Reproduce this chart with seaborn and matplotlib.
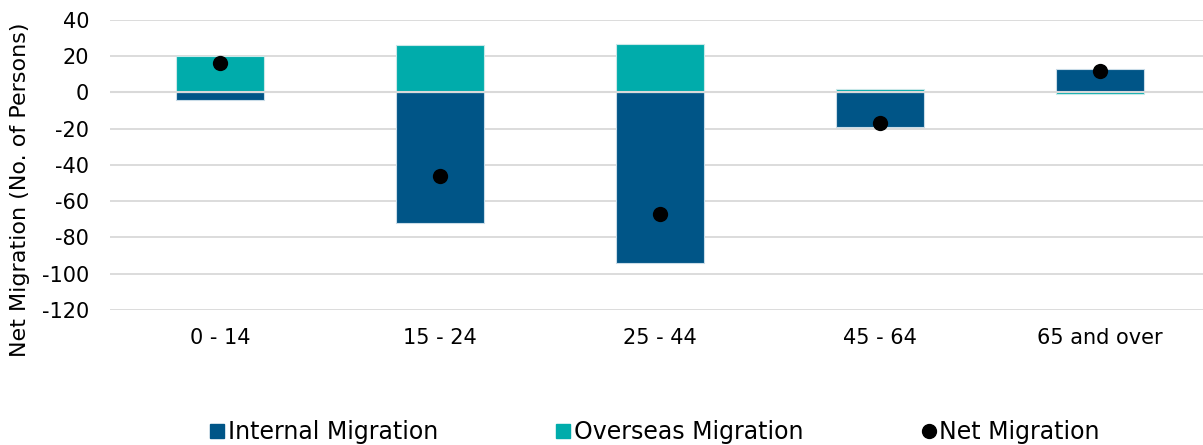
import matplotlib
matplotlib.use("Agg")
import matplotlib.pyplot as plt
import seaborn as sns
import pandas as pd
from matplotlib.lines import Line2D

# Net migration by age group, split by source
age_groups = ["0 - 14", "15 - 24", "25 - 44", "45 - 64", "65 and over"]
internal = [-4, -72, -94, -19, 13]
overseas = [20, 26, 27, 2, -1]
net = [16, -46, -67, -17, 12]

yticks = [-120, -100, -80, -60, -40, -20, 0, 20, 40]

INTERNAL_C = "#005587"
OVERSEAS_C = "#00ACAB"
GRID_C = "#D9D9D9"

sns.set_theme(style="white")
plt.rcParams["font.family"] = ["DejaVu Sans"]
plt.rcParams["text.color"] = "black"

df = pd.DataFrame({"age": age_groups, "internal": internal,
                   "overseas": overseas, "net": net})

fig = plt.figure(figsize=(12.03, 4.45), dpi=100)
ax = fig.add_axes([110 / 1203, (445 - 310) / 445, 1100 / 1203, 290 / 445])

# Each age group has one positive and one negative component, so both bars start at zero
sns.barplot(data=df, x="age", y="internal", color=INTERNAL_C, width=0.4,
            saturation=1, edgecolor="#c9dce8", linewidth=0.8, ax=ax, zorder=2)
sns.barplot(data=df, x="age", y="overseas", color=OVERSEAS_C, width=0.4,
            saturation=1, edgecolor="#c9e8e8", linewidth=0.8, ax=ax, zorder=2)
sns.stripplot(data=df, x="age", y="net", color="black", size=11,
              jitter=False, ax=ax, zorder=4)

ax.set_ylim(-120, 40)
ax.set_xlim(-0.5, 4.5)
ax.set_yticks(yticks)
ax.set_yticklabels([str(v) for v in yticks])
ax.yaxis.grid(True, color=GRID_C, linewidth=1.3, zorder=0)
ax.set_axisbelow(True)
ax.axhline(0, color=GRID_C, linewidth=1.5, zorder=3)
for s in ax.spines.values():
    s.set_visible(False)
ax.tick_params(axis="both", length=0, labelsize=15, colors="black")
ax.tick_params(axis="y", pad=15)
ax.tick_params(axis="x", pad=13)
ax.set_xlabel("")
ax.set_ylabel("")
fig.text(20 / 1203, 1 - 190 / 445, "Net Migration (No. of Persons)",
         rotation=90, ha="center", va="center", fontsize=16, color="black")

handles = [
    Line2D([], [], marker="s", linestyle="none", markersize=10,
           markerfacecolor=INTERNAL_C, markeredgecolor=INTERNAL_C),
    Line2D([], [], marker="s", linestyle="none", markersize=10,
           markerfacecolor=OVERSEAS_C, markeredgecolor=OVERSEAS_C),
    Line2D([], [], marker="o", linestyle="none", markersize=10,
           markerfacecolor="black", markeredgecolor="black"),
]
labels = ["Internal Migration", "Overseas Migration", "Net Migration"]
fig.legend(handles, labels, loc="center", bbox_to_anchor=(655 / 1203, 1 - 432 / 445),
           ncol=3, frameon=False, fontsize=17, handlelength=0.6,
           handletextpad=0.15, columnspacing=5.0, labelcolor="black")

fig.savefig("out.png", dpi=100)
